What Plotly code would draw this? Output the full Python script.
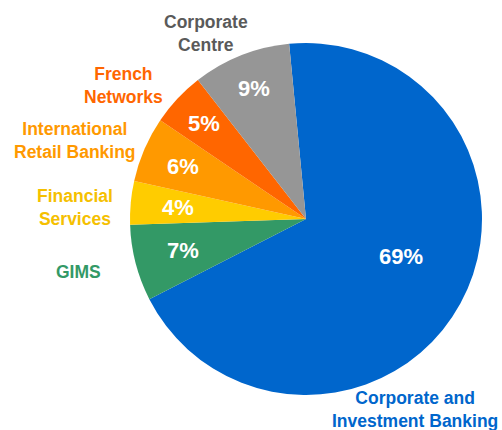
import math
import plotly.graph_objects as go

# segment shares (%), in clockwise order starting near 12 o'clock
segments = ["Corporate and<br>Investment Banking", "GIMS", "Financial<br>Services",
            "International<br>Retail Banking", "French<br>Networks", "Corporate<br>Centre"]
shares = [69, 7, 4, 6, 5, 9]
pct_labels = ["69%", "7%", "4%", "6%", "5%", "9%"]
slice_colors = ["#0066CC", "#339966", "#FFCC00", "#FF9900", "#FF6600", "#969696"]
label_colors = ["#0066CC", "#339966", "#F5C000", "#FF9900", "#FF6600", "#5A5A5A"]

W, H = 502, 430
CX, CY, R = 306, 219, 176
ROTATION = -5.5

# where the outside labels sit (pixels)
label_xy = [(415, 409), (78, 272), (75, 207), (75, 140), (123, 86), (206, 33)]
# how far out each percentage sits (fraction of radius) and small angle nudges
pct_radius = [0.58, 0.72, 0.73, 0.76, 0.79, 0.8]
pct_nudge = [-7, 0, 0, 0, 0, 0]

fig = go.Figure(go.Pie(
    labels=[s.replace("<br>", " ") for s in segments],
    values=shares,
    sort=False,
    direction="clockwise",
    rotation=ROTATION,
    marker=dict(colors=slice_colors, line=dict(width=0)),
    textinfo="none",
    hoverinfo="label+percent",
    domain=dict(x=[(CX - R) / W, (CX + R) / W],
                y=[(H - CY - R) / H, (H - CY + R) / H]),
    showlegend=False,
))

annotations = []
cum = 0
for i, v in enumerate(shares):
    mid = math.radians(ROTATION + 360 * (cum + v / 2) / sum(shares) + pct_nudge[i])
    cum += v
    px = CX + pct_radius[i] * R * math.sin(mid)
    py = CY - pct_radius[i] * R * math.cos(mid)
    annotations.append(dict(
        x=px / W, y=1 - py / H, xref="paper", yref="paper", showarrow=False,
        xanchor="center", yanchor="middle",
        text="<b>%s</b>" % pct_labels[i],
        font=dict(family="Liberation Sans, Arial", size=22, color="white"),
    ))
    lx, ly = label_xy[i]
    annotations.append(dict(
        x=lx / W, y=1 - ly / H, xref="paper", yref="paper",
        showarrow=False, xanchor="center", yanchor="middle",
        text="<b>%s</b>" % segments[i], align="center",
        font=dict(family="Liberation Sans, Arial", size=17.5, color=label_colors[i]),
    ))

fig.update_layout(
    width=W, height=H,
    margin=dict(l=0, r=0, t=0, b=0),
    paper_bgcolor="white",
    plot_bgcolor="white",
    annotations=annotations,
)

# drop the browser's default 8px body margin so the figure fills the window
fig.write_html(
    "out.html",
    config={"displayModeBar": False},
    post_script="document.body.style.margin='0';document.body.style.overflow='hidden';",
)
